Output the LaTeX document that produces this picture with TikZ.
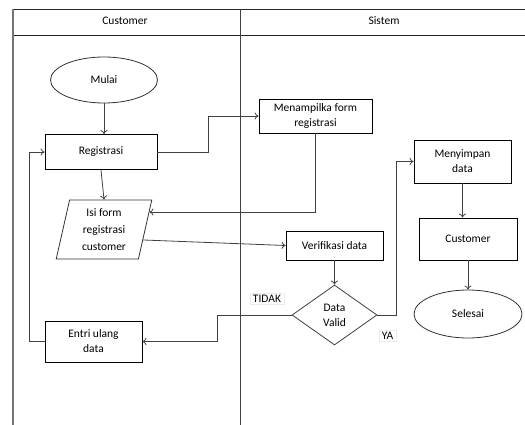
\documentclass[tikz,border=0pt]{standalone}
\usepackage{fontspec}
\setmainfont{Carlito}
\usetikzlibrary{shapes.geometric,arrows.meta}

\begin{document}
\begin{tikzpicture}[x=1pt,y=-1pt,
  font=\fontsize{11.5}{13}\selectfont,
  every node/.style={inner sep=0pt},
  procbox/.style={draw=black, line width=0.8pt, fill=white, align=center},
  term/.style={draw=black!80, line width=0.8pt, ellipse, fill=white},
  iobox/.style={draw=black!80, line width=0.8pt, trapezium, trapezium left angle=78.5,
    trapezium right angle=101.5, trapezium stretches=true, align=center},
  decision/.style={draw=black!75, line width=0.8pt, diamond, aspect=1.42, align=center},
  flow/.style={draw=black!75, line width=0.8pt, -{To[length=4pt,width=7pt]}},
  tag/.style={draw=black!8, fill=white, inner xsep=3pt, inner ysep=2pt}]

\useasboundingbox (0,0) rectangle (525,425);

% swimlane frame
\draw[black!85, line width=0.8pt] (13,9) -- (525,9);
\draw[black!85, line width=0.8pt] (13,35) -- (525,35);
\draw[black!55, line width=1.3pt] (13,9) -- (13,425);
\draw[black!75, line width=0.9pt] (240,9) -- (240,425);
\node (hcust) at (125,21) {Customer};
\node (hsys) at (384,21) {Sistem};

% customer lane
\node[term, minimum width=107pt, minimum height=46pt] (mulai) at (104,80) {Mulai};
\node[procbox, minimum width=112pt, minimum height=35pt] (reg) at (101,152) {Registrasi};
\node[iobox, minimum width=96pt, minimum height=59pt] (isi) at (104,229.5)
  {Isi form\\[4pt]registrasi\\[4pt]customer};
\node[procbox, minimum width=97pt, minimum height=41pt] (entri) at (93.5,341.5)
  {Entri ulang\\[2pt]data};

% system lane
\node[procbox, minimum width=113pt, minimum height=34pt] (tampil) at (315.5,116)
  {Menampilka form\\[2pt]registrasi};
\node[procbox, minimum width=97pt, minimum height=29pt] (verif) at (334.5,245.5)
  {Verifikasi data};
\node[decision, minimum width=85pt, minimum height=60pt] (valid) at (334.5,315)
  {Data\\[2pt]Valid};
\node[procbox, minimum width=97pt, minimum height=43pt] (simpan) at (462.5,161.5)
  {Menyimpan\\[2pt]data};
\node[procbox, minimum width=98pt, minimum height=42pt] (cust) at (468,239)
  {Customer};
\node[term, minimum width=108pt, minimum height=48pt] (selesai) at (468,314)
  {Selesai};

% branch labels
\node[tag] (tidak) at (267,299) {TIDAK};
\node[tag] (ya) at (387.5,335.5) {YA};

% connectors
\draw[flow] (mulai.south) -- (mulai.south |- reg.north);
\draw[flow] (reg.east) -- (208,152) |- (tampil.west);
\draw[flow] (reg.south) -- (isi.north);
\draw[flow] (tampil.south) |- (isi.21);
\draw[flow] (isi.-15) -- (verif.west);
\draw[flow] (verif.south) -- (valid.north);
\draw[flow] (valid.west) -- (217,315) |- (entri.east);
\draw[flow] (entri.west) -- (29,341.5) |- (reg.west);
\draw[flow] (valid.east) -- (396,315) |- (simpan.west);
\draw[flow] (simpan.south) -- (simpan.south |- cust.north);
\draw[flow] (cust.south) -- (selesai.north);

\end{tikzpicture}
\end{document}
